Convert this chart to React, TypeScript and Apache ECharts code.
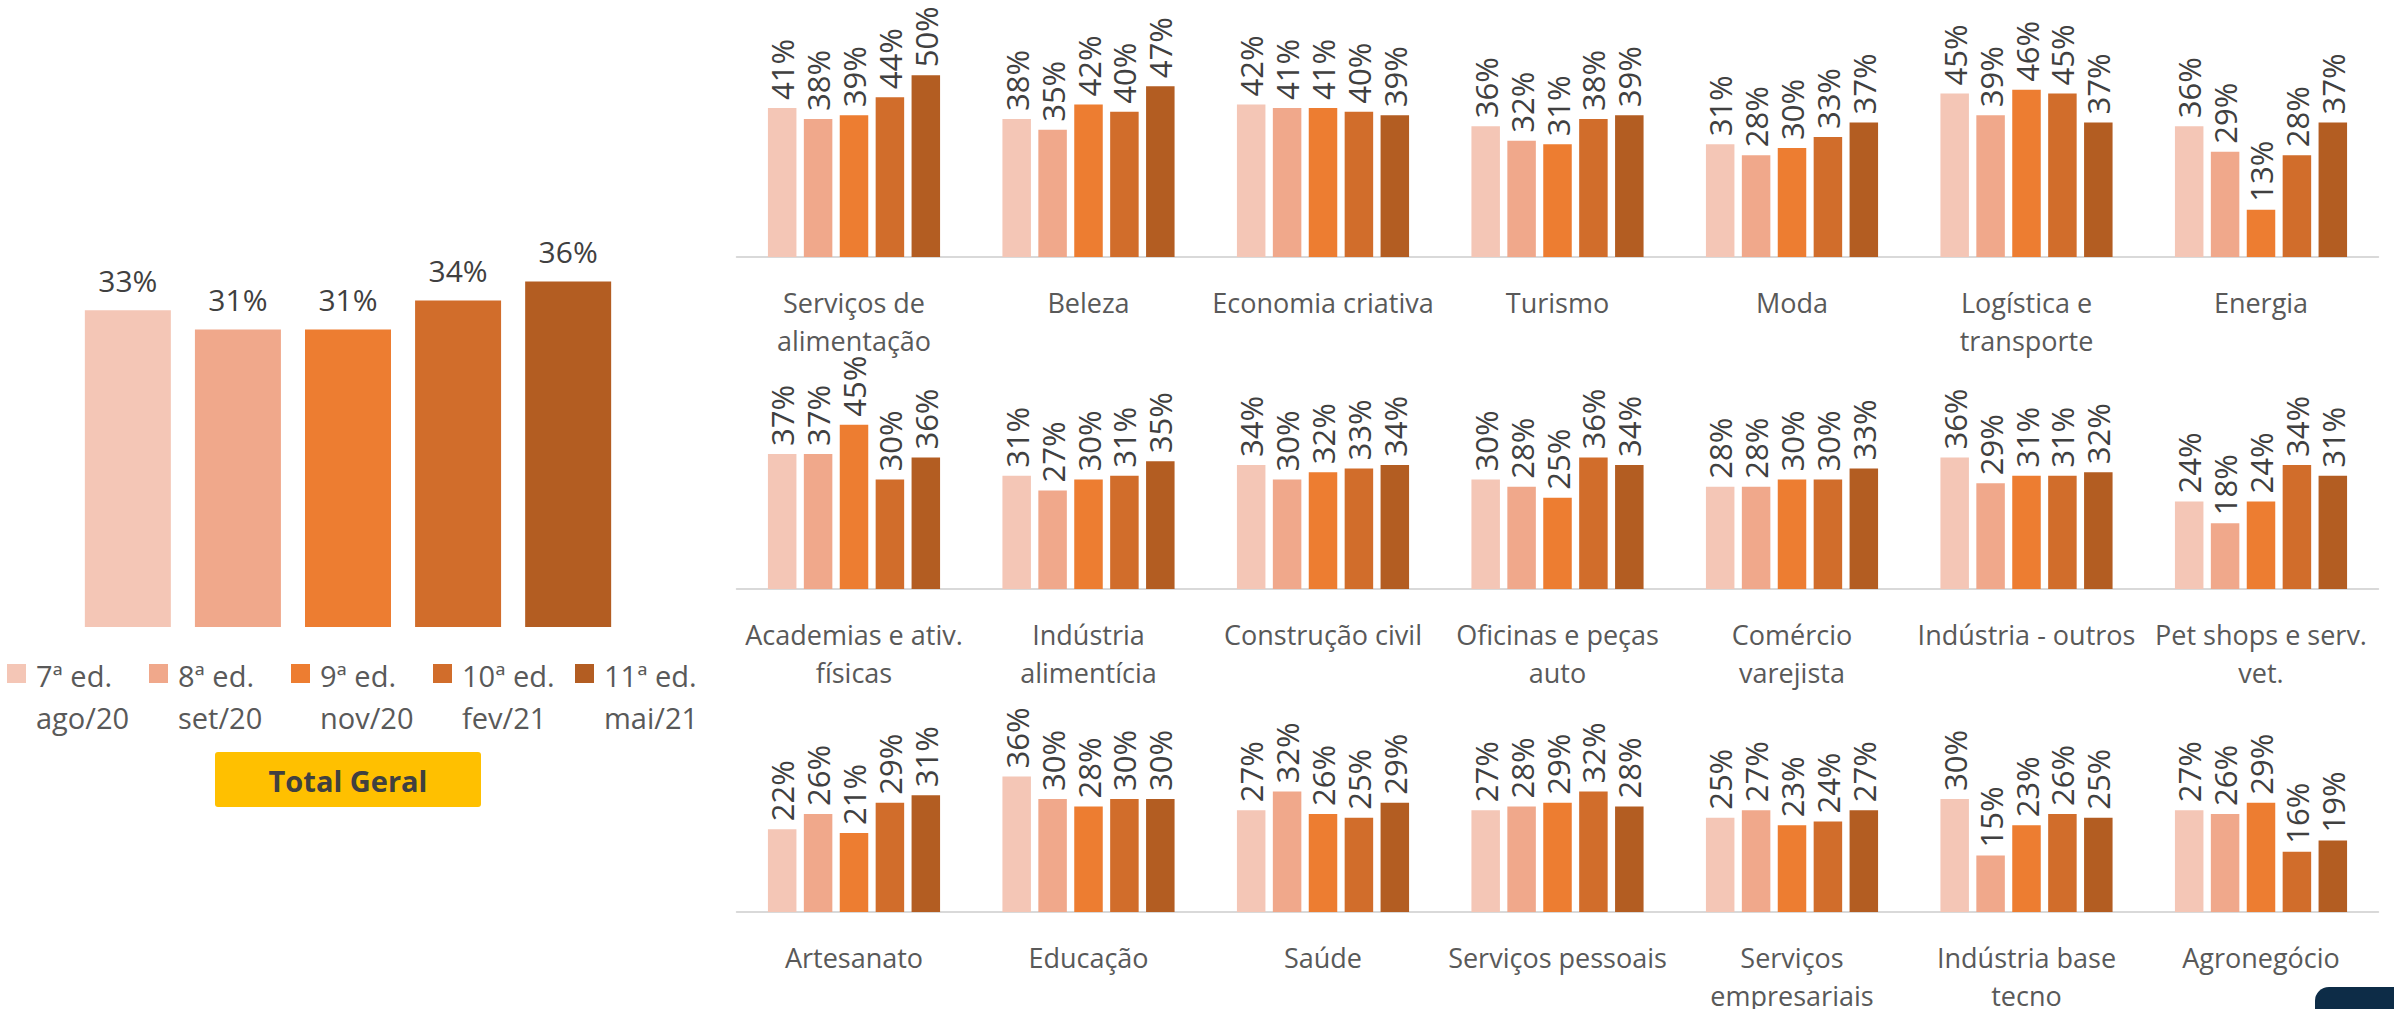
import React, { useEffect, useRef } from "react";
import * as echarts from "echarts";

const editions = ["7ª ed.", "8ª ed.", "9ª ed.", "10ª ed.", "11ª ed."];
const editionDates = ["ago/20", "set/20", "nov/20", "fev/21", "mai/21"];
const seriesColors = ["#F4C6B6", "#F0A88B", "#ED7D31", "#D16D2B", "#B35D22"];

const totalCategory = ["Total Geral"];
const totalValues = [33, 31, 31, 34, 36];

const row1Categories = [
  "Serviços de\nalimentação",
  "Beleza",
  "Economia criativa",
  "Turismo",
  "Moda",
  "Logística e\ntransporte",
  "Energia",
];
const row1Values = [
  [41, 38, 39, 44, 50],
  [38, 35, 42, 40, 47],
  [42, 41, 41, 40, 39],
  [36, 32, 31, 38, 39],
  [31, 28, 30, 33, 37],
  [45, 39, 46, 45, 37],
  [36, 29, 13, 28, 37],
];

const row2Categories = [
  "Academias e ativ.\nfísicas",
  "Indústria\nalimentícia",
  "Construção civil",
  "Oficinas e peças\nauto",
  "Comércio\nvarejista",
  "Indústria - outros",
  "Pet shops e serv.\nvet.",
];
const row2Values = [
  [37, 37, 45, 30, 36],
  [31, 27, 30, 31, 35],
  [34, 30, 32, 33, 34],
  [30, 28, 25, 36, 34],
  [28, 28, 30, 30, 33],
  [36, 29, 31, 31, 32],
  [24, 18, 24, 34, 31],
];

const row3Categories = [
  "Artesanato",
  "Educação",
  "Saúde",
  "Serviços pessoais",
  "Serviços\nempresariais",
  "Indústria base\ntecno",
  "Agronegócio",
];
const row3Values = [
  [22, 26, 21, 29, 31],
  [36, 30, 28, 30, 30],
  [27, 32, 26, 25, 29],
  [27, 28, 29, 32, 28],
  [25, 27, 23, 24, 27],
  [30, 15, 23, 26, 25],
  [27, 26, 29, 16, 19],
];

const FONT = "'Segoe UI', 'Open Sans', sans-serif";

export default function App() {
  const ref = useRef<HTMLDivElement>(null);

  useEffect(() => {
    if (!ref.current) return;
    document.body.style.margin = "0";
    const chart = echarts.init(ref.current, null, { renderer: "svg" });

    const rowsCfg = [
      { cats: row1Categories, vals: row1Values, top: 39, height: 218 },
      { cats: row2Categories, vals: row2Values, top: 370, height: 219 },
      { cats: row3Categories, vals: row3Values, top: 686, height: 226 },
    ];

    const grids: any[] = [
      { left: 48, width: 600, top: 243, height: 384, outerBoundsMode: "none" },
    ];
    const xAxes: any[] = [
      { type: "category", gridIndex: 0, data: totalCategory, show: false },
    ];
    const yAxes: any[] = [
      { type: "value", gridIndex: 0, min: 0, max: 40, show: false },
    ];
    const series: any[] = [];

    totalValues.forEach((v, i) => {
      series.push({
        type: "bar",
        name: editions[i],
        xAxisIndex: 0,
        yAxisIndex: 0,
        data: [v],
        barWidth: 86,
        barGap: "28%",
        itemStyle: { color: seriesColors[i] },
        label: {
          show: true,
          position: "top",
          distance: 15,
          formatter: "{c}%",
          fontSize: 30,
          color: "#404040",
          fontFamily: FONT,
        },
      });
    });

    rowsCfg.forEach((row, r) => {
      const gi = r + 1;
      grids.push({
        left: 736.75,
        width: 1641.5,
        top: row.top,
        height: row.height,
        outerBoundsMode: "none",
      });
      xAxes.push({
        type: "category",
        gridIndex: gi,
        data: row.cats,
        axisTick: { show: false },
        axisLine: { show: true, lineStyle: { color: "#D9D9D9", width: 2 } },
        axisLabel: {
          interval: 0,
          fontSize: 27,
          lineHeight: 38,
          margin: 26,
          color: "#595959",
          fontFamily: FONT,
        },
      });
      yAxes.push({ type: "value", gridIndex: gi, min: 0, max: 60, show: false });
      editions.forEach((ed, s) => {
        series.push({
          type: "bar",
          name: ed,
          xAxisIndex: gi,
          yAxisIndex: gi,
          data: row.vals.map((g) => g[s]),
          barWidth: 28.5,
          barGap: "26%",
          itemStyle: { color: seriesColors[s] },
          label: {
            show: true,
            position: "top",
            distance: 8,
            rotate: 90,
            align: "left",
            verticalAlign: "middle",
            formatter: "{c}%",
            fontSize: 31,
            color: "#404040",
            fontFamily: FONT,
          },
        });
      });
    });

    const graphics: any[] = [];
    editions.forEach((ed, i) => {
      const x = 7 + i * 142;
      graphics.push({
        type: "rect",
        shape: { x, y: 664, width: 19, height: 19 },
        style: { fill: seriesColors[i] },
      });
      graphics.push({
        type: "text",
        x: x + 29,
        y: 675,
        style: {
          text: ed,
          fontSize: 29,
          fill: "#595959",
          fontFamily: FONT,
          verticalAlign: "middle",
          align: "left",
        },
      });
      graphics.push({
        type: "text",
        x: x + 29,
        y: 717,
        style: {
          text: editionDates[i],
          fontSize: 29,
          fill: "#595959",
          fontFamily: FONT,
          verticalAlign: "middle",
          align: "left",
        },
      });
    });
    graphics.push({
      type: "rect",
      shape: { x: 215, y: 752, width: 266, height: 55, r: 3 },
      style: { fill: "#FFC000" },
    });
    graphics.push({
      type: "text",
      x: 348,
      y: 780,
      style: {
        text: totalCategory[0],
        fontSize: 29,
        fontWeight: "bold",
        fill: "#404040",
        fontFamily: FONT,
        align: "center",
        verticalAlign: "middle",
      },
    });
    graphics.push({
      type: "rect",
      shape: { x: 2315, y: 987, width: 100, height: 40, r: [14, 0, 0, 0] },
      style: { fill: "#0D2C47" },
    });

    chart.setOption({
      animation: false,
      backgroundColor: "#FFFFFF",
      textStyle: { fontFamily: FONT },
      grid: grids,
      xAxis: xAxes,
      yAxis: yAxes,
      series,
      graphic: graphics,
    });

    return () => chart.dispose();
  }, []);

  return (
    <div
      ref={ref}
      style={{ position: "absolute", left: 0, top: 0, width: 2394, height: 1009 }}
    />
  );
}
